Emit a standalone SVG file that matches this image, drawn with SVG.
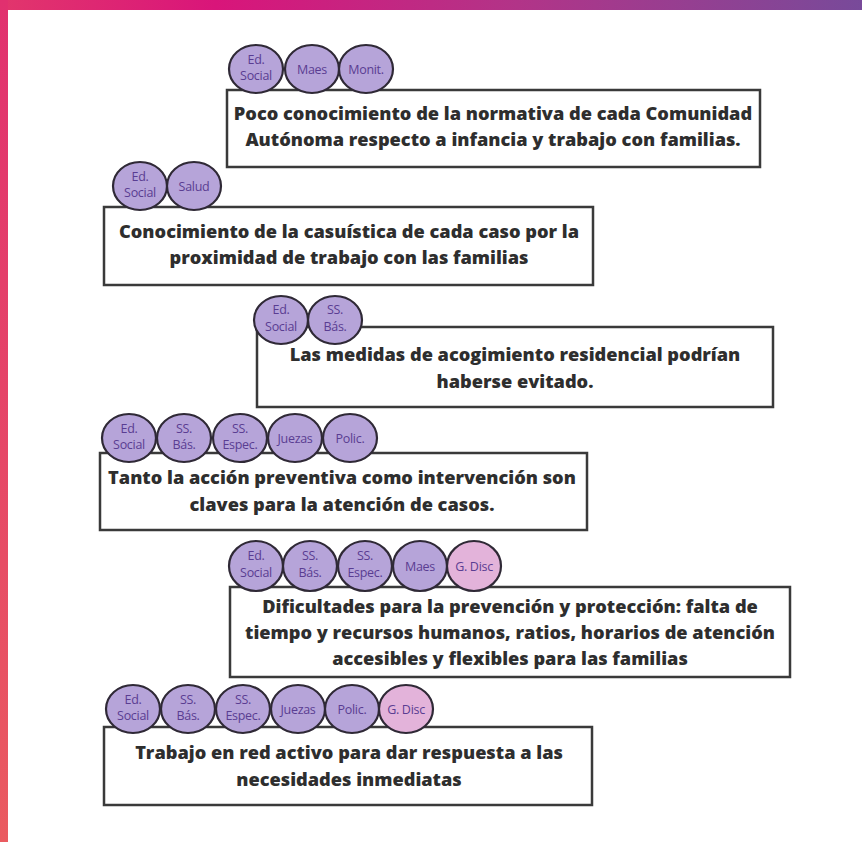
<svg xmlns="http://www.w3.org/2000/svg" width="862" height="842" viewBox="0 0 862 842">
  <defs>
    <linearGradient id="topBar" x1="0" y1="0" x2="1" y2="0">
      <stop offset="0" stop-color="#e2366c"/>
      <stop offset="0.25" stop-color="#d9157a"/>
      <stop offset="0.6" stop-color="#b23488"/>
      <stop offset="1" stop-color="#784a9a"/>
    </linearGradient>
    <linearGradient id="sideBar" x1="0" y1="0" x2="0" y2="1">
      <stop offset="0" stop-color="#e1306f"/>
      <stop offset="1" stop-color="#ea5b60"/>
    </linearGradient>
    <style>
      .box { fill: #ffffff; stroke: #3a3a3a; stroke-width: 2.5; }
      .txt { font-family: "Open Sans", "DejaVu Sans", sans-serif; font-weight: 800; font-size: 18.2px; fill: #2e2e2e; text-anchor: middle; }
      .tag { fill: #b6a4d9; stroke: #2f2936; stroke-width: 2.2; }
      .tag.disc { fill: #e3b3da; }
      .lbl { font-family: "Open Sans", "DejaVu Sans", sans-serif; font-size: 12.5px; fill: #5a3d92; text-anchor: middle; letter-spacing: -0.3px; }
    </style>
  </defs>

  <rect width="862" height="842" fill="#ffffff"/>
  <rect x="0" y="0" width="862" height="10" fill="url(#topBar)"/>
  <rect x="0" y="0" width="8" height="842" fill="url(#sideBar)"/>

  <!-- Statement 1 -->
  <g id="n1">
    <rect class="box" x="227" y="90" width="533" height="77"/>
    <text class="txt" x="493" y="120">Poco conocimiento de la normativa de cada Comunidad</text>
    <text class="txt" x="493" y="146">Autónoma respecto a infancia y trabajo con familias.</text>
    <ellipse class="tag" cx="256" cy="69" rx="27" ry="24"/>
    <text class="lbl" x="256" y="64">Ed.</text>
    <text class="lbl" x="256" y="80">Social</text>
    <ellipse class="tag" cx="312" cy="69" rx="27" ry="24"/>
    <text class="lbl" x="312" y="74">Maes</text>
    <ellipse class="tag" cx="366" cy="69" rx="27" ry="24"/>
    <text class="lbl" x="366" y="74">Monit.</text>
  </g>

  <!-- Statement 2 -->
  <g id="n2">
    <rect class="box" x="104" y="207" width="489" height="78"/>
    <text class="txt" x="349" y="238">Conocimiento de la casuística de cada caso por la</text>
    <text class="txt" x="349" y="264">proximidad de trabajo con las familias</text>
    <ellipse class="tag" cx="140" cy="186" rx="27" ry="24"/>
    <text class="lbl" x="140" y="181">Ed.</text>
    <text class="lbl" x="140" y="197">Social</text>
    <ellipse class="tag" cx="194" cy="186" rx="27" ry="24"/>
    <text class="lbl" x="194" y="191">Salud</text>
  </g>

  <!-- Statement 3 -->
  <g id="n3">
    <rect class="box" x="257" y="327" width="516" height="80"/>
    <text class="txt" x="515" y="361">Las medidas de acogimiento residencial podrían</text>
    <text class="txt" x="515" y="388">haberse evitado.</text>
    <ellipse class="tag" cx="281" cy="320" rx="27" ry="24"/>
    <text class="lbl" x="281" y="314">Ed.</text>
    <text class="lbl" x="281" y="331">Social</text>
    <ellipse class="tag" cx="335" cy="320" rx="27" ry="24"/>
    <text class="lbl" x="335" y="314">SS.</text>
    <text class="lbl" x="335" y="331">Bás.</text>
  </g>

  <!-- Statement 4 -->
  <g id="n4">
    <rect class="box" x="100" y="453" width="487" height="77"/>
    <text class="txt" x="342" y="484">Tanto la acción preventiva como intervención son</text>
    <text class="txt" x="342" y="511">claves para la atención de casos.</text>
    <ellipse class="tag" cx="129" cy="438" rx="27" ry="24"/>
    <text class="lbl" x="129" y="433">Ed.</text>
    <text class="lbl" x="129" y="449">Social</text>
    <ellipse class="tag" cx="184" cy="438" rx="27" ry="24"/>
    <text class="lbl" x="184" y="433">SS.</text>
    <text class="lbl" x="184" y="449">Bás.</text>
    <ellipse class="tag" cx="240" cy="438" rx="27" ry="24"/>
    <text class="lbl" x="240" y="433">SS.</text>
    <text class="lbl" x="240" y="449">Espec.</text>
    <ellipse class="tag" cx="295" cy="438" rx="27" ry="24"/>
    <text class="lbl" x="295" y="443">Juezas</text>
    <ellipse class="tag" cx="350" cy="438" rx="27" ry="24"/>
    <text class="lbl" x="350" y="443">Polic.</text>
  </g>

  <!-- Statement 5 -->
  <g id="n5">
    <rect class="box" x="230" y="587" width="560" height="90"/>
    <text class="txt" x="510" y="613">Dificultades para la prevención y protección: falta de</text>
    <text class="txt" x="510" y="639">tiempo y recursos humanos, ratios, horarios de atención</text>
    <text class="txt" x="510" y="665">accesibles y flexibles para las familias</text>
    <ellipse class="tag" cx="256" cy="566" rx="27" ry="25"/>
    <text class="lbl" x="256" y="560">Ed.</text>
    <text class="lbl" x="256" y="577">Social</text>
    <ellipse class="tag" cx="310" cy="566" rx="27" ry="25"/>
    <text class="lbl" x="310" y="560">SS.</text>
    <text class="lbl" x="310" y="577">Bás.</text>
    <ellipse class="tag" cx="365" cy="566" rx="27" ry="25"/>
    <text class="lbl" x="365" y="560">SS.</text>
    <text class="lbl" x="365" y="577">Espec.</text>
    <ellipse class="tag" cx="420" cy="566" rx="27" ry="25"/>
    <text class="lbl" x="420" y="571">Maes</text>
    <ellipse class="tag disc" cx="474" cy="566" rx="27" ry="25"/>
    <text class="lbl" x="474" y="571">G. Disc</text>
  </g>

  <!-- Statement 6 -->
  <g id="n6">
    <rect class="box" x="104" y="727" width="488" height="78"/>
    <text class="txt" x="349" y="759">Trabajo en red activo para dar respuesta a las</text>
    <text class="txt" x="349" y="786">necesidades inmediatas</text>
    <ellipse class="tag" cx="133" cy="709" rx="27" ry="24"/>
    <text class="lbl" x="133" y="704">Ed.</text>
    <text class="lbl" x="133" y="720">Social</text>
    <ellipse class="tag" cx="188" cy="709" rx="27" ry="24"/>
    <text class="lbl" x="188" y="704">SS.</text>
    <text class="lbl" x="188" y="720">Bás.</text>
    <ellipse class="tag" cx="243" cy="709" rx="27" ry="24"/>
    <text class="lbl" x="243" y="704">SS.</text>
    <text class="lbl" x="243" y="720">Espec.</text>
    <ellipse class="tag" cx="298" cy="709" rx="27" ry="24"/>
    <text class="lbl" x="298" y="714">Juezas</text>
    <ellipse class="tag" cx="352" cy="709" rx="27" ry="24"/>
    <text class="lbl" x="352" y="714">Polic.</text>
    <ellipse class="tag disc" cx="406" cy="709" rx="27" ry="24"/>
    <text class="lbl" x="406" y="714">G. Disc</text>
  </g>

  <!-- no connectors in this chart -->
  <g id="connectors"/>
</svg>
